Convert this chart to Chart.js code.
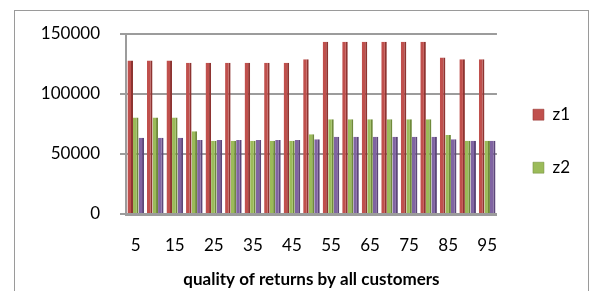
<!DOCTYPE html>
<html>
<head>
<meta charset="utf-8">
<script src="https://cdn.jsdelivr.net/npm/chart.js@4"></script>
<style>
  html, body { margin: 0; padding: 0; background: #fff; }
</style>
</head>
<body>
<canvas id="chart" width="590" height="291"></canvas>
<script>
const categories = [5, 10, 15, 20, 25, 30, 35, 40, 45, 50, 55, 60, 65, 70, 75, 80, 85, 90, 95];
const z1 = [128000, 128000, 128000, 126000, 126000, 126000, 126000, 126000, 126000, 129000, 143500, 143500, 143500, 143500, 143500, 143500, 130500, 129000, 129000];
const z2 = [80500, 80500, 80500, 69000, 61000, 61000, 61000, 61000, 61000, 66400, 79000, 79000, 79000, 79000, 79000, 79000, 65800, 61000, 61000];
const z3 = [63600, 63600, 63600, 61700, 61700, 61700, 61700, 61700, 61700, 62250, 64400, 64400, 64400, 64400, 64400, 64400, 62250, 61000, 61000];
const yTicks = [0, 50000, 100000, 150000];
const xTitle = 'quality of returns by all customers';

const FONT = 'Lato, "Open Sans", sans-serif';
const GRID = '#9c9c9c';

// white page + outer frame of the chart object
const framePlugin = {
  id: 'frame',
  beforeDraw(chart) {
    const ctx = chart.ctx;
    ctx.save();
    ctx.fillStyle = '#fff';
    ctx.fillRect(0, 0, chart.width, chart.height);
    ctx.strokeStyle = '#9a9a9a';
    ctx.lineWidth = 1;
    ctx.strokeRect(14.5, 10.5, 574, 300);
    ctx.restore();
  }
};

function dataset(label, data, color, side) {
  return {
    label: label,
    data: data,
    backgroundColor: color,
    borderColor: side,
    borderWidth: { top: 0, right: 2, bottom: 0, left: 0 },
    borderSkipped: false,
    categoryPercentage: 0.85,
    barPercentage: 1.0
  };
}

new Chart(document.getElementById('chart'), {
  type: 'bar',
  data: {
    labels: categories,
    datasets: [
      dataset('z1', z1, '#c0504d', '#8e3431'),
      dataset('z2', z2, '#9bbb59', '#6f8a3b'),
      dataset('z3', z3, '#8064a2', '#5c4679')
    ]
  },
  options: {
    responsive: false,
    animation: false,
    layout: { padding: { top: 34, left: 14, right: 10, bottom: 0 } },
    plugins: {
      tooltip: { enabled: false },
      legend: {
        position: 'right',
        align: 'start',
        title: { display: true, text: '', font: { size: 1 }, padding: { top: 0, bottom: 35 } },
        labels: {
          filter: (item) => item.text !== 'z3',
          boxWidth: 11,
          boxHeight: 11,
          padding: 36,
          color: '#000',
          font: { family: FONT, size: 17 }
        }
      }
    },
    scales: {
      x: {
        grid: { display: false },
        border: { display: true, color: GRID, width: 3 },
        ticks: {
          autoSkip: false,
          maxRotation: 0,
          padding: 13,
          color: '#000',
          font: { family: FONT, size: 17 },
          callback: (v, i) => (i % 2 === 0 ? categories[i] : '')
        },
        title: {
          display: true,
          text: xTitle,
          color: '#000',
          font: { family: FONT, size: 17, weight: 'bold' },
          padding: { top: 4, bottom: 1 }
        },
        afterFit: (scale) => { scale.height = 77; }
      },
      y: {
        min: 0,
        max: 150000,
        afterBuildTicks: (scale) => { scale.ticks = yTicks.map(v => ({ value: v })); },
        grid: { color: GRID, lineWidth: 2, tickLength: 6 },
        border: { display: true, color: GRID, width: 2 },
        ticks: {
          padding: 20,
          color: '#000',
          font: { family: FONT, size: 17 },
          callback: (v) => String(v)
        },
        afterFit: (scale) => { scale.width = 112; }
      }
    }
  },
  plugins: [framePlugin]
});
</script>
</body>
</html>
